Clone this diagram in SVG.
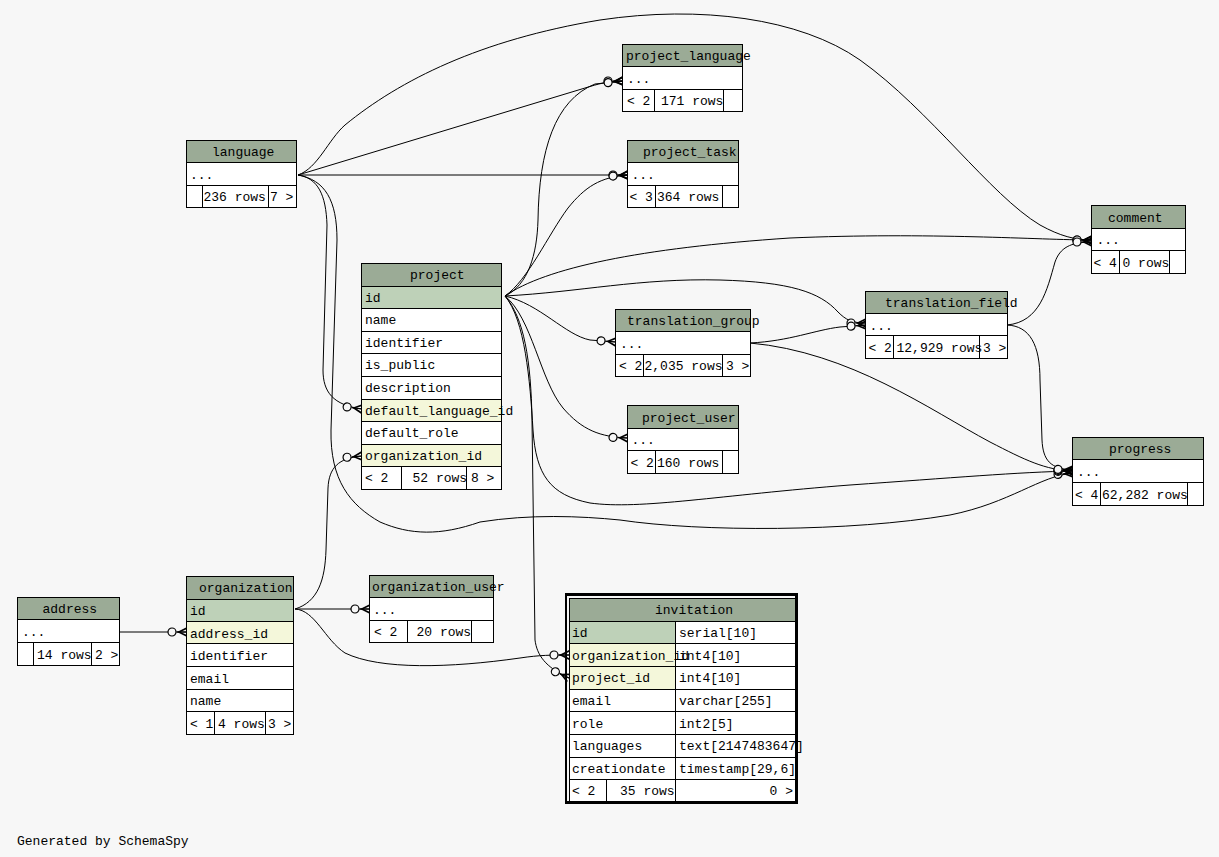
<svg xmlns="http://www.w3.org/2000/svg" width="1219" height="857" viewBox="0 0 1219 857">
<style>
.t rect{stroke:#000;stroke-width:1;shape-rendering:crispEdges}
.h{fill:#9bab96}.w{fill:#fff}.p{fill:#bed1b8}.f{fill:#f4f7da}
text{font-family:"Liberation Mono","DejaVu Sans Mono",monospace;font-size:13px;fill:#000}
.e path{fill:none;stroke:#000;stroke-width:1;marker-end:url(#cf)}
.e path.n{marker-end:none}
</style>
<defs>
<marker id="cf" markerUnits="userSpaceOnUse" viewBox="-22 -7 23 14" markerWidth="23" markerHeight="14" refX="0" refY="0" orient="auto">
<polygon points="0,-5 -10,0 0,5 0,3 -6.5,0 0,-3" fill="#000"/>
<path d="M0,0 L-10,0" stroke="#000" stroke-width="1.2"/>
<circle cx="-15" cy="0" r="4" fill="#f7f7f7" stroke="#000" stroke-width="1.2"/>
</marker>
</defs>
<rect width="1219" height="857" fill="#f7f7f7"/>

<g class="e" id="connectors">
<path d="M298,175 L585,88 C598,84 608,81 623,81"/>
<path d="M298,175 L628,175"/>
<path d="M298,175 C318,168 328,140 345,125 C400,80 480,40 600,20 C700,5 800,18 860,60 C930,110 990,195 1040,225 C1060,236 1075,240 1092,240"/>
<path d="M298,175 C318,178 326,195 327,225 L323,370 C323,392 333,405 362,409"/>
<path d="M298,175 C325,180 337,200 337,240 L331,430 C330,480 350,505 380,522 C410,535 440,536 480,522 C530,514 580,516 620,520 C700,532 850,532 950,515 C1010,503 1040,476 1073,473"/>
<path d="M505,296 C528,285 537,255 538,220 C539,150 555,100 595,84 L623,81"/>
<path d="M505,296 C528,280 548,235 568,208 C585,187 600,177 628,175"/>
<path d="M505,296 C545,268 640,248 790,238 C930,232 1040,240 1092,240"/>
<path d="M505,296 C580,292 640,278 720,280 C790,282 820,292 838,312 C846,320 852,323 866,323"/>
<path d="M505,296 C540,304 565,335 590,340 L616,342"/>
<path d="M505,296 C532,318 540,380 563,408 C582,430 600,437 628,438"/>
<path d="M505,296 C524,318 531,360 532,420 L535,640 C537,655 545,667 569,678"/>
<path d="M505,296 C525,320 530,380 533,430 C536,475 550,495 590,503 C640,510 720,495 850,485 C950,478 1020,472 1073,471"/>
<path d="M750,343 C790,341 815,330 840,327 L866,325"/>
<path d="M750,343 C850,352 930,410 990,442 C1025,460 1045,470 1073,471"/>
<path d="M1007,325 C1040,322 1047,290 1055,262 C1060,248 1070,242 1092,242"/>
<path d="M1007,325 C1030,326 1040,345 1040,380 L1042,440 C1043,460 1050,469 1073,470"/>
<path d="M295,609 C318,602 325,580 326,550 L328,488 C329,468 338,458 362,456"/>
<path d="M295,609 L370,609"/>
<path d="M295,609 C315,610 325,640 345,653 C380,670 450,668 520,658 C540,655 552,655 569,655"/>
<path d="M120,632 L187,632"/>
</g>

<g class="t" id="language">
<rect class="h" x="186" y="140" width="110" height="22.5"/>
<rect class="w" x="186" y="162.5" width="110" height="22.5"/>
<rect class="w" x="186" y="185" width="16" height="22.5"/>
<rect class="w" x="202" y="185" width="66" height="22.5"/>
<rect class="w" x="268" y="185" width="28" height="22.5"/>
<text x="212" y="156">language</text>
<text x="190" y="178.5">...</text>
<text x="203.5" y="201">236 rows</text>
<text x="270" y="201">7 &gt;</text>
</g>

<g class="t" id="project">
<rect class="h" x="361.5" y="263" width="140" height="23"/>
<rect class="p" x="361.5" y="286" width="140" height="22"/>
<rect class="w" x="361.5" y="308" width="140" height="23"/>
<rect class="w" x="361.5" y="331" width="140" height="22"/>
<rect class="w" x="361.5" y="353" width="140" height="23"/>
<rect class="w" x="361.5" y="376" width="140" height="23"/>
<rect class="f" x="361.5" y="399" width="140" height="22"/>
<rect class="w" x="361.5" y="421" width="140" height="23"/>
<rect class="f" x="361.5" y="444" width="140" height="22"/>
<rect class="w" x="361.5" y="466" width="40" height="23"/>
<rect class="w" x="401.5" y="466" width="65" height="23"/>
<rect class="w" x="466.5" y="466" width="35" height="23"/>
<text x="410" y="279">project</text>
<text x="365" y="302">id</text>
<text x="365" y="324">name</text>
<text x="365" y="347">identifier</text>
<text x="365" y="369">is_public</text>
<text x="365" y="392">description</text>
<text x="365" y="415">default_language_id</text>
<text x="365" y="437">default_role</text>
<text x="365" y="460">organization_id</text>
<text x="365" y="482">&lt; 2</text>
<text x="412.5" y="482">52 rows</text>
<text x="471" y="482">8 &gt;</text>
</g>

<g class="t" id="project_language">
<rect class="h" x="622.5" y="44" width="120" height="22.5"/>
<rect class="w" x="622.5" y="66.5" width="120" height="22.5"/>
<rect class="w" x="622.5" y="89" width="32" height="22.5"/>
<rect class="w" x="654.5" y="89" width="68.5" height="22.5"/>
<rect class="w" x="723" y="89" width="19.5" height="22.5"/>
<text x="626" y="60">project_language</text>
<text x="627" y="83">...</text>
<text x="627" y="105">&lt; 2</text>
<text x="661" y="105">171 rows</text>
</g>

<g class="t" id="project_task">
<rect class="h" x="627.5" y="140" width="111" height="22.5"/>
<rect class="w" x="627.5" y="162.5" width="111" height="22.5"/>
<rect class="w" x="627.5" y="185" width="28" height="22.5"/>
<rect class="w" x="655.5" y="185" width="67" height="22.5"/>
<rect class="w" x="722.5" y="185" width="16" height="22.5"/>
<text x="643" y="156">project_task</text>
<text x="631.5" y="178.5">...</text>
<text x="629.5" y="201">&lt; 3</text>
<text x="657" y="201">364 rows</text>
</g>

<g class="t" id="comment">
<rect class="h" x="1091.5" y="205.5" width="94" height="22.5"/>
<rect class="w" x="1091.5" y="228" width="94" height="22.5"/>
<rect class="w" x="1091.5" y="250.5" width="28" height="22.5"/>
<rect class="w" x="1119.5" y="250.5" width="50" height="22.5"/>
<rect class="w" x="1169.5" y="250.5" width="16" height="22.5"/>
<text x="1108" y="221.5">comment</text>
<text x="1096.5" y="244">...</text>
<text x="1093.5" y="266.5">&lt; 4</text>
<text x="1122.5" y="266.5">0 rows</text>
</g>

<g class="t" id="translation_field">
<rect class="h" x="865.5" y="291" width="142" height="22.5"/>
<rect class="w" x="865.5" y="313.5" width="142" height="22"/>
<rect class="w" x="865.5" y="335.5" width="28" height="22.5"/>
<rect class="w" x="893.5" y="335.5" width="86" height="22.5"/>
<rect class="w" x="979.5" y="335.5" width="28" height="22.5"/>
<text x="885" y="307">translation_field</text>
<text x="869.5" y="329.5">...</text>
<text x="868.5" y="351.5">&lt; 2</text>
<text x="896.5" y="351.5">12,929 rows</text>
<text x="983" y="351.5">3 &gt;</text>
</g>

<g class="t" id="translation_group">
<rect class="h" x="615.5" y="309" width="135" height="22.5"/>
<rect class="w" x="615.5" y="331.5" width="135" height="22.5"/>
<rect class="w" x="615.5" y="354" width="28" height="22.5"/>
<rect class="w" x="643.5" y="354" width="79" height="22.5"/>
<rect class="w" x="722.5" y="354" width="28" height="22.5"/>
<text x="627" y="325">translation_group</text>
<text x="620" y="347.5">...</text>
<text x="619" y="370">&lt; 2</text>
<text x="644.5" y="370">2,035 rows</text>
<text x="726" y="370">3 &gt;</text>
</g>

<g class="t" id="project_user">
<rect class="h" x="627.5" y="405.5" width="111" height="22.5"/>
<rect class="w" x="627.5" y="428" width="111" height="22.5"/>
<rect class="w" x="627.5" y="450.5" width="28" height="22.5"/>
<rect class="w" x="655.5" y="450.5" width="67" height="22.5"/>
<rect class="w" x="722.5" y="450.5" width="16" height="22.5"/>
<text x="642" y="421.5">project_user</text>
<text x="631.5" y="444">...</text>
<text x="630.5" y="466.5">&lt; 2</text>
<text x="657" y="466.5">160 rows</text>
</g>

<g class="t" id="progress">
<rect class="h" x="1072.5" y="437.5" width="131" height="22"/>
<rect class="w" x="1072.5" y="459.5" width="131" height="23"/>
<rect class="w" x="1072.5" y="482.5" width="28" height="23"/>
<rect class="w" x="1100.5" y="482.5" width="87" height="23"/>
<rect class="w" x="1187.5" y="482.5" width="16" height="23"/>
<text x="1109" y="453">progress</text>
<text x="1077" y="476">...</text>
<text x="1075" y="498.5">&lt; 4</text>
<text x="1102" y="498.5">62,282 rows</text>
</g>

<g class="t" id="address">
<rect class="h" x="17.5" y="597.5" width="102" height="22"/>
<rect class="w" x="17.5" y="619.5" width="102" height="22.5"/>
<rect class="w" x="17.5" y="642" width="16" height="23"/>
<rect class="w" x="33.5" y="642" width="58" height="23"/>
<rect class="w" x="91.5" y="642" width="28" height="23"/>
<text x="42.5" y="613">address</text>
<text x="22" y="636">...</text>
<text x="37" y="658.5">14 rows</text>
<text x="95" y="658.5">2 &gt;</text>
</g>

<g class="t" id="organization">
<rect class="h" x="186.5" y="576" width="107" height="23"/>
<rect class="p" x="186.5" y="599" width="107" height="22.5"/>
<rect class="f" x="186.5" y="621.5" width="107" height="22"/>
<rect class="w" x="186.5" y="643.5" width="107" height="22.5"/>
<rect class="w" x="186.5" y="666" width="107" height="23"/>
<rect class="w" x="186.5" y="689" width="107" height="22.5"/>
<rect class="w" x="186.5" y="711.5" width="28" height="22.5"/>
<rect class="w" x="214.5" y="711.5" width="51" height="22.5"/>
<rect class="w" x="265.5" y="711.5" width="28" height="22.5"/>
<text x="199" y="592">organization</text>
<text x="190" y="615">id</text>
<text x="190" y="637.5">address_id</text>
<text x="190" y="659.5">identifier</text>
<text x="190" y="682.5">email</text>
<text x="190" y="705">name</text>
<text x="190" y="727.5">&lt; 1</text>
<text x="218" y="727.5">4 rows</text>
<text x="268" y="727.5">3 &gt;</text>
</g>

<g class="t" id="organization_user">
<rect class="h" x="369.5" y="575" width="124" height="22.5"/>
<rect class="w" x="369.5" y="597.5" width="124" height="22.5"/>
<rect class="w" x="369.5" y="620" width="38" height="22"/>
<rect class="w" x="407.5" y="620" width="64" height="22"/>
<rect class="w" x="471.5" y="620" width="22" height="22"/>
<text x="372" y="591">organization_user</text>
<text x="373" y="613.5">...</text>
<text x="374" y="636">&lt; 2</text>
<text x="416.5" y="636">20 rows</text>
</g>

<g class="t" id="invitation">
<rect x="566" y="594.5" width="230.5" height="208" fill="none" stroke-width="2.5" style="stroke-width:2.5px"/>
<rect class="h" x="569.5" y="598" width="225.5" height="23"/>
<rect class="p" x="569.5" y="621" width="106" height="22.5"/>
<rect class="w" x="675.5" y="621" width="119.5" height="22.5"/>
<rect class="f" x="569.5" y="643.5" width="106" height="22.5"/>
<rect class="w" x="675.5" y="643.5" width="119.5" height="22.5"/>
<rect class="f" x="569.5" y="666" width="106" height="23"/>
<rect class="w" x="675.5" y="666" width="119.5" height="23"/>
<rect class="w" x="569.5" y="689" width="106" height="22.5"/>
<rect class="w" x="675.5" y="689" width="119.5" height="22.5"/>
<rect class="w" x="569.5" y="711.5" width="106" height="22.5"/>
<rect class="w" x="675.5" y="711.5" width="119.5" height="22.5"/>
<rect class="w" x="569.5" y="734" width="106" height="23"/>
<rect class="w" x="675.5" y="734" width="119.5" height="23"/>
<rect class="w" x="569.5" y="757" width="106" height="22.5"/>
<rect class="w" x="675.5" y="757" width="119.5" height="22.5"/>
<rect class="w" x="569.5" y="779.5" width="37" height="21.5"/>
<rect class="w" x="606.5" y="779.5" width="69" height="21.5"/>
<rect class="w" x="675.5" y="779.5" width="119.5" height="21.5"/>
<text x="655" y="614">invitation</text>
<text x="572" y="637">id</text><text x="679" y="637">serial[10]</text>
<text x="572" y="659.5">organization_id</text><text x="679" y="659.5">int4[10]</text>
<text x="572" y="682">project_id</text><text x="679" y="682">int4[10]</text>
<text x="572" y="705">email</text><text x="679" y="705">varchar[255]</text>
<text x="572" y="727.5">role</text><text x="679" y="727.5">int2[5]</text>
<text x="572" y="750">languages</text><text x="679" y="750">text[2147483647]</text>
<text x="572" y="773">creationdate</text><text x="679" y="773">timestamp[29,6]</text>
<text x="572" y="795">&lt; 2</text>
<text x="620" y="795">35 rows</text>
<text x="793" y="795" text-anchor="end">0 &gt;</text>
</g>

<text x="17" y="845">Generated by SchemaSpy</text>
</svg>
